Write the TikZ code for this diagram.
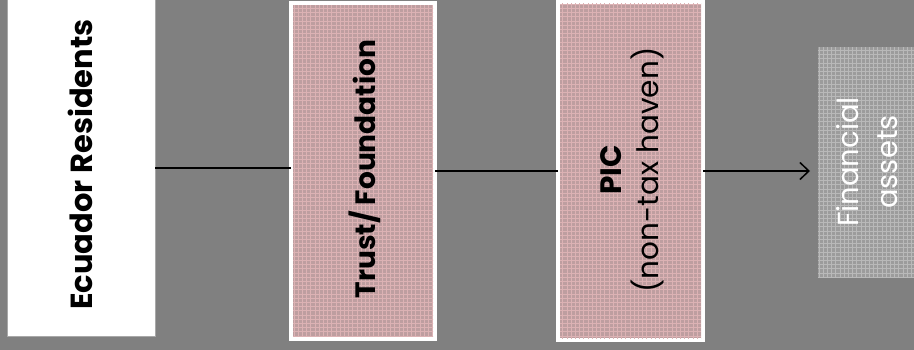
\documentclass[tikz,border=0pt]{standalone}
\usepackage{fontspec}
\setmainfont{Poppins}
\usetikzlibrary{arrows.meta}
\definecolor{bg}{HTML}{808080}
\definecolor{pinkbase}{HTML}{BE9EA0}
\definecolor{pinkline}{HTML}{DCB2B4}
\definecolor{graybase}{HTML}{9C9C9C}
\definecolor{grayline}{HTML}{B9B9B9}
\definecolor{edgegray}{HTML}{A8A8A8}
\begin{document}
\begin{tikzpicture}[x=1pt,y=-1pt,
  box/.style={rectangle, inner sep=0pt, outer sep=0pt},
  pinkbox/.style={box, fill=pinkbase, draw=white, line width=4pt},
  lbl/.style={rotate=90, inner sep=0pt, font=\fontsize{29.5}{37}\selectfont, align=center},
  link/.style={draw=black, line width=1.3pt}]
\useasboundingbox (0,0) rectangle (914,350);
\fill[bg] (0,0) rectangle (914,350);
% boxes
\node[box, fill=white, draw=edgegray, line width=1pt, minimum width=148pt, minimum height=336pt] (er) at (81,168) {};
\node[pinkbox, minimum width=144pt, minimum height=335pt] (tf) at (363,171) {};
\node[pinkbox, minimum width=145pt, minimum height=338pt] (pic) at (630.5,171) {};
\node[box, fill=graybase, minimum width=102pt, minimum height=231pt] (fa) at (869,162.5) {};
% textures
\begin{scope}
\clip ([xshift=2pt,yshift=-2pt]tf.north west) rectangle ([xshift=-2pt,yshift=2pt]tf.south east);
\draw[pinkline, line width=0.7pt, step=4.2pt] (tf.south west) grid (tf.north east);
\end{scope}
\begin{scope}
\clip ([xshift=2pt,yshift=-2pt]pic.north west) rectangle ([xshift=-2pt,yshift=2pt]pic.south east);
\draw[pinkline, line width=0.7pt, step=4.2pt] (pic.south west) grid (pic.north east);
\end{scope}
\begin{scope}
\clip (fa.north west) rectangle (fa.south east);
\draw[grayline, line width=0.7pt, step=4.2pt] (fa.south west) grid (fa.north east);
\end{scope}
% labels
\node[lbl, font=\fontsize{30.5}{37}\selectfont\bfseries] (erl) at (80,164.5) {Ecuador Residents};
\node[lbl, font=\fontsize{28}{36}\selectfont\bfseries] (tfl) at (365,169) {Trust/ Foundation};
\node[lbl] (picl) at (632,170) {\textbf{PIC}\\(non-tax haven)};
\node[lbl, font=\fontsize{29}{39}\selectfont, text=white] (fal) at (867,162) {Financial\\assets};
% connectors
\draw[link, line width=2.4pt] (er.east) -- (er.east -| tf.west);
\draw[link] (tf.east) -- (pic.west);
\draw[link, -{Straight Barb[length=9pt,width=17pt,line width=1.5pt]}, shorten >=8pt] (pic.east) -- (pic.east -| fa.west);
\end{tikzpicture}
\end{document}
